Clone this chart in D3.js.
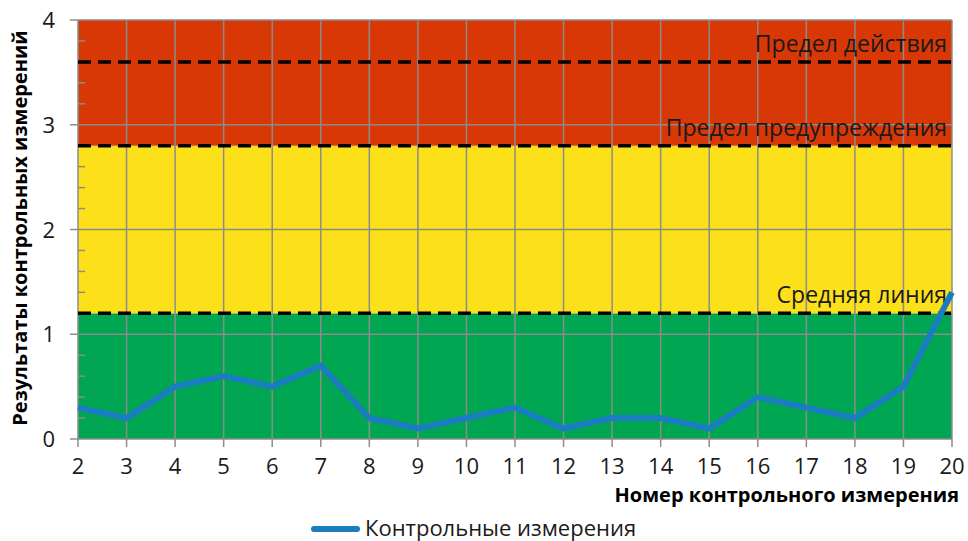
<!DOCTYPE html>
<html><head><meta charset="utf-8">
<script src="https://cdn.jsdelivr.net/npm/d3@7"></script>
<style>body{margin:0;background:#fff}svg{display:block;font-family:"Open Sans",sans-serif}</style>
</head><body><svg id="c" width="968" height="541"></svg>
<script>
const categories = [2,3,4,5,6,7,8,9,10,11,12,13,14,15,16,17,18,19,20];
const measurements = [0.3,0.2,0.5,0.6,0.5,0.7,0.2,0.1,0.2,0.3,0.1,0.2,0.2,0.1,0.4,0.3,0.2,0.5,1.4];
const bands = [{from:0,to:1.2,color:"#00A651"},{from:1.2,to:2.8,color:"#FCE11A"},{from:2.8,to:4,color:"#D83706"}];
const limits = [{value:1.2,label:"Средняя линия"},{value:2.8,label:"Предел предупреждения"},{value:3.6,label:"Предел действия"}];
const yTicks = [0,1,2,3,4];
const yTitle = "Результаты контрольных измерений";
const xTitle = "Номер контрольного измерения";
const legendLabel = "Контрольные измерения";

const svg = d3.select("#c");
const L=78,R=952,T=20,B=439;
const x = d3.scalePoint().domain(categories).range([L,R]);
const y = d3.scaleLinear().domain([0,4]).range([B,T]);
const grid="#8c8c8c";

svg.selectAll("rect.band").data(bands).join("rect")
  .attr("x",L).attr("width",R-L).attr("y",d=>y(d.to)).attr("height",d=>y(d.from)-y(d.to)).attr("fill",d=>d.color);

svg.selectAll("line.vg").data(categories).join("line")
  .attr("x1",d=>x(d)).attr("x2",d=>x(d)).attr("y1",T).attr("y2",B+8).attr("stroke",grid).attr("stroke-width",1.5);
svg.selectAll("line.hg").data(yTicks).join("line")
  .attr("x1",L-8).attr("x2",R).attr("y1",d=>y(d)).attr("y2",d=>y(d)).attr("stroke",grid).attr("stroke-width",1.5);
const minor = d3.range(0,4.01,0.2).filter(v=>Math.abs(v-Math.round(v))>0.01);
svg.selectAll("line.mt").data(minor).join("line")
  .attr("x1",L).attr("x2",L+7).attr("y1",d=>y(d)).attr("y2",d=>y(d)).attr("stroke",grid).attr("stroke-width",1.5);

svg.selectAll("line.lim").data(limits).join("line")
  .attr("x1",L).attr("x2",R).attr("y1",d=>y(d.value)).attr("y2",d=>y(d.value))
  .attr("stroke","#000").attr("stroke-width",3.5).attr("stroke-dasharray","13,7");
svg.selectAll("text.lim").data(limits).join("text")
  .attr("x",947).attr("y",d=>y(d.value)-10).attr("text-anchor","end")
  .attr("font-size",23).attr("fill","#1a1a1a").text(d=>d.label);

svg.append("path").datum(measurements.map((v,i)=>[categories[i],v]))
  .attr("d",d3.line().x(d=>x(d[0])).y(d=>y(d[1])))
  .attr("fill","none").attr("stroke","#1B7DC1").attr("stroke-width",6).attr("stroke-linejoin","miter");

svg.selectAll("text.yt").data(yTicks).join("text")
  .attr("x",55).attr("y",d=>y(d)+8).attr("text-anchor","end").attr("font-size",22).attr("fill","#1a1a1a").text(d=>d);
svg.selectAll("text.xt").data(categories).join("text")
  .attr("x",d=>x(d)).attr("y",474).attr("text-anchor","middle").attr("font-size",22).attr("fill","#1a1a1a").text(d=>d);

svg.append("text").attr("transform",`translate(27,228) rotate(-90)`).attr("text-anchor","middle")
  .attr("font-size",20).attr("font-weight","bold").attr("fill","#000").text(yTitle);
svg.append("text").attr("x",959).attr("y",502).attr("text-anchor","end")
  .attr("font-size",20).attr("font-weight","bold").attr("fill","#000").text(xTitle);

svg.append("line").attr("x1",314).attr("x2",357).attr("y1",529).attr("y2",529)
  .attr("stroke","#1B7DC1").attr("stroke-width",6).attr("stroke-linecap","round");
svg.append("text").attr("x",365).attr("y",536).attr("font-size",22).attr("fill","#1a1a1a").text(legendLabel);
</script></body></html>
